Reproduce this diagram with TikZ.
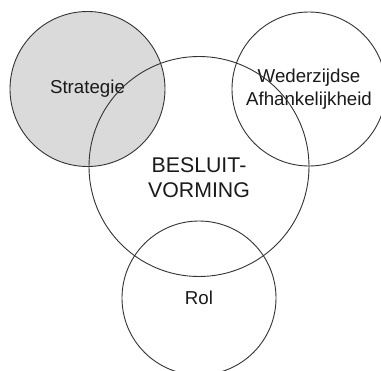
\documentclass[tikz,border=0pt]{standalone}
\usepackage{fontspec}
\setmainfont{Liberation Sans}
\definecolor{ringline}{HTML}{333333}
\definecolor{ringfill}{HTML}{DADADA}
\definecolor{ringtext}{HTML}{1A1A1A}
\begin{document}
\begin{tikzpicture}[x=1bp,y=-1bp,
  ring/.style={circle, draw=ringline, line width=0.9bp, inner sep=0pt, outer sep=0pt, text=ringtext, align=center},
  small/.style={font=\fontsize{18.7bp}{23bp}\selectfont},
  big/.style={font=\fontsize{21.3bp}{25bp}\selectfont}]
\useasboundingbox (0,0) rectangle (381,371);
\fill[white] (0,0) rectangle (381,371);
\node[ring, fill=ringfill, minimum size=155bp, small] (strat) at (87.5,89) {Strategie};
\node[ring, minimum size=154bp, small] (wed) at (309,89) {Wederzijdse\\Afhankelijkheid};
\node[ring, minimum size=220bp] (bes) at (199,166.5) {};
\node[ring, minimum size=154bp, small] (rol) at (199,298) {Rol};
\node[big, align=center, text=ringtext, inner sep=0pt] (beslabel) at (199,178) {BESLUIT-\\VORMING};
\end{tikzpicture}
\end{document}
